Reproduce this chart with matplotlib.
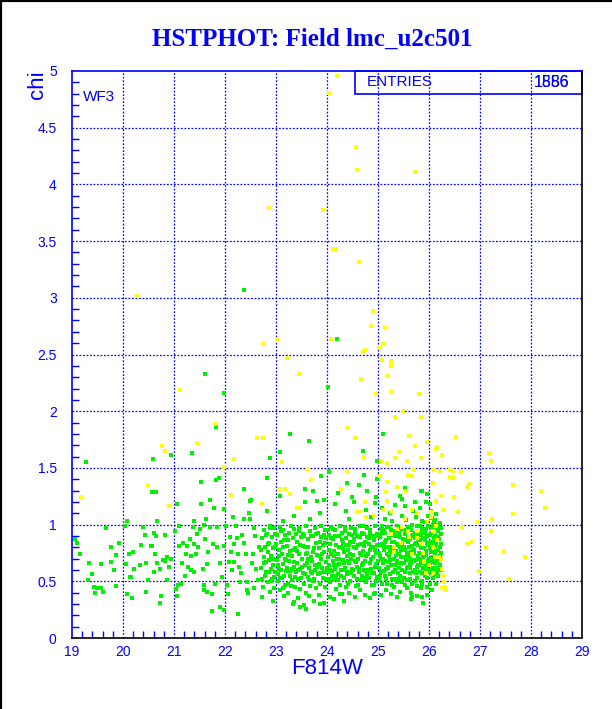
import numpy as np
import matplotlib
matplotlib.use("Agg")
import matplotlib.pyplot as plt
from matplotlib.lines import Line2D
from matplotlib.patches import Rectangle

# ---------------- data ----------------
title = "HSTPHOT: Field lmc_u2c501"
x_label = "F814W"
y_label = "chi"
x_ticks = [19, 20, 21, 22, 23, 24, 25, 26, 27, 28, 29]
y_ticks = [0, 0.5, 1, 1.5, 2, 2.5, 3, 3.5, 4, 4.5, 5]
y_tick_labels = ["0", "0.5", "1", "1.5", "2", "2.5", "3", "3.5", "4", "4.5", "5"]
stats_label = "ENTRIES"
stats_values = ["1556", "1886"]   # two overprinted numbers
chip_label = "WF3"

# sparse bright part (x < 22.7)
green_bright = [
    (19.28, 1.55), (19.10, 0.84), (19.16, 0.74), (19.06, 0.87), (19.33, 0.66), (19.32, 0.51),
    (19.40, 0.56), (19.44, 0.45), (19.45, 0.40), (19.50, 0.44), (19.56, 0.44), (19.56, 0.65),
    (19.61, 0.41), (19.66, 0.97), (19.77, 0.80), (19.77, 0.67), (19.83, 0.60), (19.87, 0.73),
    (19.87, 0.46), (19.92, 0.84), (20.04, 0.99), (20.08, 1.03), (20.05, 0.65), (20.11, 0.74),
    (20.13, 0.54), (20.16, 0.54), (20.21, 0.61), (20.07, 0.39), (20.18, 0.35), (20.20, 0.76),
    (20.36, 0.82), (20.34, 0.64), (20.40, 0.98), (20.44, 0.91), (20.46, 0.66), (20.49, 0.51),
    (20.46, 0.41), (20.56, 1.29), (20.64, 1.29), (20.58, 1.58), (20.54, 0.81), (20.57, 0.81),
    (20.60, 0.93), (20.62, 0.74), (20.60, 0.58), (20.64, 0.90), (20.66, 1.03), (20.67, 0.66),
    (20.72, 0.61), (20.74, 0.37), (20.72, 0.31), (20.78, 0.69), (20.82, 0.91), (20.82, 0.68),
    (20.86, 0.51), (20.86, 0.71), (20.91, 0.63), (20.94, 0.70), (20.95, 1.61), (21.01, 0.94),
    (21.05, 1.18), (21.07, 0.47), (21.05, 0.37), (21.03, 0.43), (21.10, 0.99), (21.10, 0.81),
    (21.14, 0.48), (21.16, 0.66), (21.18, 0.84), (21.21, 0.55), (21.23, 0.74), (21.26, 0.81),
    (21.28, 0.63), (21.31, 0.87), (21.33, 0.72), (21.34, 0.60), (21.36, 1.63), (21.38, 0.98),
    (21.39, 1.03), (21.40, 0.83), (21.39, 0.58), (21.43, 0.74), (21.46, 0.92), (21.47, 0.80),
    (21.51, 0.96), (21.52, 1.18), (21.53, 1.38), (21.56, 0.61), (21.58, 0.47), (21.58, 0.42),
    (21.59, 1.00), (21.60, 0.87), (21.62, 1.05), (21.64, 0.65), (21.64, 0.41), (21.67, 0.76),
    (21.70, 1.22), (21.71, 0.98), (21.74, 0.24), (21.75, 0.39), (21.77, 0.83), (21.79, 1.15),
    (21.80, 0.48), (21.82, 1.39), (21.82, 1.86), (21.84, 0.80), (21.85, 0.98), (21.89, 1.41),
    (21.91, 0.66), (21.91, 0.27), (21.95, 0.54), (21.98, 0.81), (21.99, 1.14), (21.99, 0.25),
    (22.01, 0.99), (22.04, 0.47), (22.06, 0.39), (22.08, 0.67), (22.10, 0.89), (22.11, 0.76),
    (22.13, 0.60), (22.15, 1.07), (22.17, 0.67), (22.18, 0.83), (22.21, 0.99), (22.23, 0.88),
    (22.25, 0.74), (22.26, 0.21), (22.28, 0.63), (22.30, 0.49), (22.31, 0.57), (22.34, 0.91),
    (22.37, 1.05), (22.38, 1.31), (22.38, 0.84), (22.41, 0.74), (22.43, 0.42), (22.44, 0.49),
    (22.46, 0.40), (22.48, 1.10), (22.50, 1.05), (22.51, 1.22), (22.52, 0.66), (22.54, 0.74),
    (22.56, 0.44), (22.57, 0.97), (22.59, 0.90), (22.61, 0.61), (22.63, 1.76), (22.64, 0.51),
    (22.67, 0.80), (22.37, 3.07), (21.61, 2.33), (21.98, 2.16),
]

# dense faint part (x >= 22.7)
green_faint = [
    (22.71, 0.62), (22.73, 0.88), (22.74, 0.45), (22.76, 0.71), (22.77, 0.95), (22.78, 0.55), (22.79, 0.80), (22.72, 0.36),
    (22.81, 0.67), (22.82, 0.92), (22.84, 0.49), (22.85, 0.76), (22.86, 0.58), (22.88, 0.99), (22.89, 0.41), (22.87, 0.84), (22.83, 1.12),
    (22.91, 0.72), (22.92, 0.52), (22.93, 0.89), (22.95, 0.64), (22.96, 0.97), (22.97, 0.44), (22.98, 0.80), (22.99, 0.58), (22.94, 0.33),
    (23.01, 0.69), (23.02, 0.91), (23.03, 0.50), (23.05, 0.78), (23.06, 0.61), (23.07, 0.98), (23.08, 0.42), (23.09, 0.85), (23.04, 0.56), (23.07, 1.25),
    (23.11, 0.74), (23.12, 0.53), (23.13, 0.95), (23.14, 0.65), (23.16, 0.86), (23.17, 0.47), (23.18, 0.70), (23.19, 0.59), (23.15, 0.37), (23.13, 1.03),
    (23.21, 0.81), (23.22, 0.62), (23.23, 0.48), (23.25, 0.93), (23.26, 0.68), (23.27, 0.55), (23.28, 0.77), (23.29, 0.99), (23.24, 0.40),
    (23.31, 0.72), (23.32, 0.51), (23.33, 0.88), (23.35, 0.63), (23.36, 0.96), (23.37, 0.45), (23.38, 0.79), (23.39, 0.58), (23.34, 0.30), (23.36, 1.08),
    (23.41, 0.66), (23.42, 0.85), (23.43, 0.52), (23.45, 0.74), (23.46, 0.97), (23.47, 0.43), (23.48, 0.61), (23.49, 0.89), (23.44, 0.35), (23.47, 1.15),
    (23.51, 0.70), (23.52, 0.57), (23.53, 0.92), (23.55, 0.48), (23.56, 0.80), (23.57, 0.64), (23.58, 0.99), (23.59, 0.40), (23.54, 0.29), (23.56, 1.20),
    (23.61, 0.75), (23.62, 0.54), (23.63, 0.87), (23.65, 0.62), (23.66, 0.94), (23.67, 0.46), (23.68, 0.71), (23.69, 0.58), (23.64, 0.37), (23.66, 1.05),
    (23.71, 0.68), (23.72, 0.90), (23.73, 0.50), (23.75, 0.79), (23.76, 0.60), (23.77, 0.97), (23.78, 0.44), (23.79, 0.84), (23.74, 0.33), (23.73, 1.30),
    (23.81, 0.73), (23.82, 0.56), (23.83, 0.93), (23.85, 0.65), (23.86, 0.85), (23.87, 0.48), (23.88, 0.70), (23.89, 0.99), (23.84, 0.38), (23.86, 1.10),
    (23.91, 0.62), (23.92, 0.82), (23.93, 0.53), (23.95, 0.76), (23.96, 0.95), (23.97, 0.45), (23.98, 0.67), (23.99, 0.88), (23.94, 0.31), (23.95, 1.22),
    (24.01, 0.71), (24.02, 0.58), (24.03, 0.91), (24.04, 0.64), (24.05, 0.83), (24.06, 0.49), (24.07, 0.98), (24.08, 0.74), (24.09, 0.55), (24.05, 0.36), (24.03, 1.46),
    (24.11, 0.68), (24.12, 0.87), (24.13, 0.52), (24.14, 0.77), (24.15, 0.95), (24.16, 0.61), (24.17, 0.43), (24.18, 0.82), (24.19, 0.70), (24.14, 0.34), (24.16, 1.18),
    (24.21, 0.74), (24.22, 0.56), (24.23, 0.90), (24.24, 0.65), (24.25, 0.99), (24.26, 0.47), (24.27, 0.80), (24.28, 0.60), (24.29, 0.86), (24.25, 0.39), (24.22, 1.28),
    (24.31, 0.69), (24.32, 0.84), (24.33, 0.53), (24.34, 0.76), (24.35, 0.94), (24.36, 0.62), (24.37, 0.45), (24.38, 0.88), (24.39, 0.72), (24.34, 0.33), (24.37, 1.12),
    (24.41, 0.78), (24.42, 0.58), (24.43, 0.92), (24.44, 0.66), (24.45, 0.50), (24.46, 0.85), (24.47, 0.97), (24.48, 0.70), (24.49, 0.61), (24.44, 0.40), (24.43, 1.05),
    (24.51, 0.73), (24.52, 0.87), (24.53, 0.55), (24.54, 0.68), (24.55, 0.96), (24.56, 0.46), (24.57, 0.79), (24.58, 0.63), (24.59, 0.90), (24.55, 0.36), (24.52, 1.20),
    (24.61, 0.70), (24.62, 0.58), (24.63, 0.89), (24.64, 0.75), (24.65, 0.99), (24.66, 0.51), (24.67, 0.83), (24.68, 0.64), (24.69, 0.93), (24.65, 0.42), (24.62, 1.35),
    (24.71, 0.77), (24.72, 0.60), (24.73, 0.92), (24.74, 0.68), (24.75, 0.85), (24.76, 0.49), (24.77, 0.72), (24.78, 0.97), (24.79, 0.56), (24.74, 0.38), (24.76, 1.13), (24.72, 1.44),
    (24.81, 0.74), (24.82, 0.88), (24.83, 0.53), (24.84, 0.66), (24.85, 0.95), (24.86, 0.61), (24.87, 0.80), (24.88, 0.47), (24.89, 0.90), (24.84, 0.35), (24.86, 1.07),
    (24.91, 0.71), (24.92, 0.57), (24.93, 0.86), (24.94, 0.78), (24.95, 0.99), (24.96, 0.50), (24.97, 0.65), (24.98, 0.92), (24.99, 0.82), (24.94, 0.40), (24.97, 1.24), (24.98, 1.40),
    (25.01, 0.75), (25.02, 0.62), (25.03, 0.89), (25.04, 0.55), (25.05, 0.96), (25.06, 0.70), (25.07, 0.83), (25.08, 0.48), (25.09, 0.66), (25.02, 0.91), (25.06, 0.38), (25.08, 1.15),
    (25.11, 0.78), (25.12, 0.59), (25.13, 0.93), (25.14, 0.68), (25.15, 0.86), (25.16, 0.52), (25.17, 0.74), (25.18, 0.98), (25.19, 0.63), (25.12, 0.81), (25.16, 0.42), (25.14, 1.05),
    (25.21, 0.72), (25.22, 0.88), (25.23, 0.56), (25.24, 0.80), (25.25, 0.95), (25.26, 0.64), (25.27, 0.47), (25.28, 0.76), (25.29, 0.91), (25.22, 0.67), (25.26, 0.39), (25.24, 1.10), (25.28, 1.03),
    (25.31, 0.70), (25.32, 0.85), (25.33, 0.60), (25.34, 0.94), (25.35, 0.77), (25.36, 0.52), (25.37, 0.68), (25.38, 0.99), (25.39, 0.82), (25.32, 0.45), (25.36, 0.90), (25.34, 1.17), (25.38, 0.36),
    (25.41, 0.74), (25.42, 0.62), (25.43, 0.89), (25.44, 0.55), (25.45, 0.97), (25.46, 0.71), (25.47, 0.83), (25.48, 0.49), (25.49, 0.66), (25.42, 0.93), (25.46, 0.78), (25.44, 0.41), (25.48, 1.08), (25.43, 1.25),
    (25.51, 0.80), (25.52, 0.58), (25.53, 0.92), (25.54, 0.69), (25.55, 0.86), (25.56, 0.51), (25.57, 0.75), (25.58, 0.98), (25.59, 0.63), (25.52, 0.71), (25.56, 0.44), (25.54, 1.04), (25.58, 0.88), (25.53, 1.32),
    (25.61, 0.73), (25.62, 0.87), (25.63, 0.57), (25.64, 0.95), (25.65, 0.66), (25.66, 0.81), (25.67, 0.48), (25.68, 0.77), (25.69, 0.91), (25.62, 0.62), (25.66, 1.00), (25.64, 0.40), (25.68, 1.12), (25.63, 0.70),
    (25.71, 0.78), (25.72, 0.60), (25.73, 0.93), (25.74, 0.69), (25.75, 0.84), (25.76, 0.53), (25.77, 0.99), (25.78, 0.72), (25.79, 0.64), (25.72, 0.88), (25.76, 0.46), (25.74, 1.07), (25.78, 0.82), (25.73, 1.20), (25.77, 0.37),
    (25.81, 0.75), (25.82, 0.91), (25.83, 0.58), (25.84, 0.83), (25.85, 0.67), (25.86, 0.97), (25.87, 0.50), (25.88, 0.79), (25.89, 0.62), (25.82, 0.70), (25.86, 1.03), (25.84, 0.44), (25.88, 0.88), (25.83, 1.15), (25.87, 0.95), (25.85, 1.30),
    (25.91, 0.72), (25.92, 0.86), (25.93, 0.60), (25.94, 0.96), (25.95, 0.77), (25.96, 0.53), (25.97, 0.90), (25.98, 0.68), (25.99, 0.82), (25.92, 1.02), (25.96, 0.45), (25.94, 0.64), (25.98, 1.08), (25.93, 0.74), (25.97, 0.38), (25.95, 1.20),
    (26.01, 0.79), (26.02, 0.66), (26.03, 0.93), (26.04, 0.57), (26.05, 0.85), (26.06, 0.71), (26.07, 1.00), (26.08, 0.62), (26.09, 0.88), (26.02, 0.48), (26.06, 1.06), (26.04, 0.76), (26.08, 0.95), (26.03, 1.12), (26.07, 0.53), (26.05, 0.42), (26.09, 0.69), (26.01, 1.18),
    (26.11, 0.74), (26.12, 0.90), (26.13, 0.61), (26.14, 0.83), (26.15, 0.97), (26.16, 0.68), (26.17, 0.78), (26.18, 0.55), (26.12, 1.04), (26.14, 0.48), (26.16, 0.87), (26.13, 1.09), (26.11, 0.66), (26.17, 0.94), (26.15, 0.58),
    (26.21, 0.80), (26.22, 0.69), (26.23, 0.92), (26.24, 0.60), (26.21, 1.01), (26.23, 0.75),
    # stragglers above and below the band
    (22.50, 1.21), (22.82, 1.41), (22.88, 1.59), (23.08, 1.64), (23.27, 1.80), (23.65, 1.74), (23.56, 1.31),
    (23.81, 1.21), (23.89, 1.43), (24.04, 1.47), (24.40, 1.37), (24.50, 1.24), (24.79, 1.30), (24.95, 1.19),
    (24.70, 1.65), (24.99, 1.56), (25.10, 1.80), (25.48, 1.23), (25.52, 1.16), (25.87, 1.30), (25.97, 1.27),
    (24.20, 2.64), (24.01, 2.21),
    (23.35, 0.32), (23.48, 0.27), (23.58, 0.26), (23.86, 0.30), (24.30, 0.39), (24.92, 0.39), (25.88, 0.31),
    (25.67, 0.36), (25.64, 0.34), (25.89, 0.31), (25.87, 0.36),
]

# more stars in the crowded core of the band
green_core = [
    (22.705, 0.78), (22.735, 0.52), (22.765, 0.66), (22.795, 0.91),
    (22.805, 0.58), (22.835, 0.83), (22.865, 0.69), (22.895, 0.50), (22.875, 0.97),
    (22.905, 0.61), (22.935, 0.79), (22.965, 0.54), (22.985, 0.92), (22.945, 0.70),
    (23.005, 0.83), (23.035, 0.64), (23.065, 0.72), (23.085, 0.53), (23.095, 0.94),
    (23.105, 0.60), (23.135, 0.80), (23.165, 0.55), (23.185, 0.91), (23.145, 0.44),
    (23.205, 0.69), (23.235, 0.86), (23.265, 0.59), (23.285, 0.46), (23.245, 0.73),
    (23.305, 0.61), (23.335, 0.78), (23.365, 0.54), (23.385, 0.92), (23.345, 0.67),
    (23.405, 0.77), (23.435, 0.60), (23.465, 0.82), (23.485, 0.53), (23.455, 0.94),
    (23.505, 0.63), (23.535, 0.81), (23.565, 0.56), (23.585, 0.74), (23.545, 0.90),
    (23.605, 0.66), (23.635, 0.80), (23.655, 0.51), (23.685, 0.90), (23.625, 0.70),
    (23.705, 0.57), (23.735, 0.76), (23.765, 0.64), (23.785, 0.92), (23.745, 0.52),
    (23.805, 0.63), (23.835, 0.79), (23.865, 0.57), (23.885, 0.89), (23.845, 0.72),
    (23.905, 0.74), (23.935, 0.58), (23.965, 0.84), (23.985, 0.52), (23.945, 0.91),
    (24.005, 0.62), (24.035, 0.78), (24.065, 0.60), (24.085, 0.88), (24.045, 0.52), (24.025, 0.95),
    (24.105, 0.59), (24.135, 0.72), (24.165, 0.90), (24.185, 0.55), (24.145, 0.64), (24.125, 0.96),
    (24.205, 0.64), (24.235, 0.80), (24.265, 0.55), (24.285, 0.93), (24.245, 0.70), (24.215, 0.51),
    (24.305, 0.79), (24.335, 0.60), (24.365, 0.82), (24.385, 0.56), (24.345, 0.98), (24.325, 0.66),
    (24.405, 0.68), (24.435, 0.82), (24.465, 0.57), (24.485, 0.91), (24.445, 0.74), (24.415, 0.48),
    (24.505, 0.60), (24.535, 0.80), (24.565, 0.67), (24.585, 0.52), (24.545, 0.93), (24.515, 0.85),
    (24.605, 0.82), (24.635, 0.61), (24.665, 0.73), (24.685, 0.55), (24.645, 0.89), (24.615, 0.47),
    (24.705, 0.66), (24.735, 0.81), (24.765, 0.59), (24.785, 0.89), (24.745, 0.53), (24.725, 0.99),
    (24.805, 0.60), (24.835, 0.78), (24.865, 0.70), (24.885, 0.57), (24.845, 0.92), (24.815, 0.83),
    (24.905, 0.80), (24.935, 0.63), (24.965, 0.75), (24.985, 0.54), (24.945, 0.90), (24.915, 0.47),
    (25.005, 0.68), (25.035, 0.82), (25.065, 0.58), (25.085, 0.93), (25.045, 0.72), (25.015, 0.51), (25.075, 0.99),
    (25.105, 0.70), (25.135, 0.85), (25.165, 0.61), (25.185, 0.80), (25.145, 0.55), (25.115, 0.95), (25.175, 0.48),
    (25.205, 0.62), (25.235, 0.77), (25.265, 0.85), (25.285, 0.58), (25.245, 0.69), (25.215, 0.98), (25.275, 0.52),
    (25.305, 0.79), (25.335, 0.64), (25.365, 0.83), (25.385, 0.57), (25.345, 0.73), (25.315, 0.93), (25.375, 0.49),
    (25.405, 0.66), (25.435, 0.80), (25.465, 0.60), (25.485, 0.87), (25.445, 0.71), (25.415, 0.52), (25.475, 0.96),
    (25.505, 0.66), (25.535, 0.78), (25.565, 0.62), (25.585, 0.85), (25.545, 0.95), (25.515, 0.53), (25.575, 0.72), (25.525, 0.47),
    (25.605, 0.80), (25.635, 0.65), (25.665, 0.90), (25.685, 0.58), (25.645, 0.76), (25.615, 0.97), (25.675, 0.69), (25.625, 0.52),
    (25.705, 0.68), (25.735, 0.83), (25.765, 0.63), (25.785, 0.92), (25.745, 0.57), (25.715, 0.75), (25.775, 0.86), (25.725, 0.50),
    (25.805, 0.64), (25.835, 0.79), (25.865, 0.57), (25.885, 0.71), (25.845, 0.92), (25.815, 0.86), (25.875, 0.66), (25.825, 0.99), (25.855, 0.48),
    (25.905, 0.79), (25.935, 0.67), (25.965, 0.84), (25.985, 0.59), (25.945, 0.73), (25.915, 0.93), (25.975, 0.99), (25.925, 0.55), (25.955, 0.63),
    (26.005, 0.70), (26.035, 0.84), (26.065, 0.60), (26.085, 0.76), (26.045, 0.97), (26.015, 0.91), (26.075, 0.82), (26.025, 0.58), (26.055, 0.67), (26.095, 1.02),
    (26.105, 0.85), (26.135, 0.70), (26.165, 0.62), (26.185, 0.89), (26.145, 0.77), (26.115, 0.56), (26.175, 1.00), (26.125, 0.81),
    (26.205, 0.87), (26.225, 0.64), (26.245, 0.83), (26.215, 0.72), (26.235, 0.97),
]

yellow_pts = [
    (19.18, 1.24), (20.77, 1.69), (20.82, 1.65), (21.46, 1.72), (20.90, 1.16), (20.50, 1.35), (21.80, 1.89),
    (22.17, 1.58), (22.11, 1.26), (21.99, 1.51), (20.27, 3.02), (21.12, 2.19),
    (24.19, 4.96), (24.04, 4.81), (24.57, 4.33), (24.58, 4.13), (25.72, 4.11), (22.87, 3.79), (23.92, 3.77),
    (24.11, 3.43), (24.18, 3.43), (24.63, 3.32), (24.91, 2.88), (24.87, 2.75), (25.13, 2.73), (22.74, 2.59),
    (23.01, 2.64), (24.07, 2.64), (25.09, 2.59), (25.01, 2.56), (24.75, 2.54), (24.71, 2.52), (23.22, 2.47),
    (25.07, 2.45), (25.26, 2.44), (25.25, 2.40), (23.46, 2.33), (25.17, 2.31), (24.67, 2.28), (24.97, 2.15),
    (25.26, 2.17), (25.81, 2.15), (25.50, 2.00), (25.34, 1.95), (25.85, 1.95),
    (25.61, 1.78), (25.72, 1.69), (25.41, 1.64), (25.08, 1.56), (25.18, 1.54), (25.34, 1.59), (25.56, 1.56),
    (25.85, 1.59), (24.40, 1.85), (24.54, 1.76), (24.73, 1.60), (23.12, 1.55), (23.61, 1.49), (24.40, 1.47),
    (22.75, 1.76), (22.62, 1.76), (23.18, 1.31), (23.08, 1.31), (23.27, 1.27), (23.68, 1.39), (24.27, 1.31),
    (24.75, 1.20), (24.58, 1.11), (24.65, 1.11), (23.42, 1.15), (23.48, 1.15), (22.73, 1.18), (25.71, 1.48),
    (25.59, 1.44), (25.66, 1.43), (25.38, 1.33), (25.54, 1.30), (25.17, 1.38), (25.15, 1.29), (25.04, 1.43),
    (25.10, 1.13), (25.25, 1.11), (25.67, 1.13), (25.76, 1.10), (26.10, 1.48), (26.22, 1.47), (26.07, 1.37),
    (26.28, 1.13), (26.13, 1.21), (26.03, 1.11), (25.18, 1.21), (24.76, 1.07), (24.93, 1.08),
    (25.38, 0.96), (25.46, 0.84), (25.58, 0.94), (25.61, 0.89), (25.31, 0.80), (25.25, 0.92), (25.67, 0.74),
    (25.76, 0.88), (25.84, 0.83), (25.88, 0.75), (25.97, 1.02), (26.03, 1.07), (26.08, 0.94), (26.13, 0.99),
    (26.16, 0.86), (26.19, 0.71), (26.24, 0.69), (26.26, 0.61), (26.28, 0.55), (26.29, 0.49), (26.26, 0.44),
    (26.32, 0.45), (26.00, 0.64), (26.07, 0.80), (25.91, 0.67), (25.77, 0.94), (25.52, 1.05), (25.48, 0.98),
    (25.94, 0.57), (26.08, 0.57), (25.31, 0.76), (26.11, 0.71),
    (25.97, 1.73), (26.52, 1.77), (26.13, 1.67), (26.16, 1.68), (26.26, 1.61), (27.18, 1.63), (27.21, 1.56),
    (26.41, 1.48), (26.48, 1.47), (26.63, 1.46), (26.42, 1.42), (26.48, 1.41), (26.78, 1.36), (26.74, 1.33),
    (27.65, 1.35), (28.19, 1.30), (26.24, 1.25), (26.49, 1.24), (28.27, 1.15), (26.29, 1.13), (26.56, 1.11),
    (27.24, 1.05), (27.65, 1.09), (26.97, 1.02), (26.65, 0.98), (27.21, 0.94), (26.85, 0.85), (26.74, 0.83),
    (27.11, 0.80), (27.48, 0.77), (27.88, 0.71), (26.98, 0.59), (27.57, 0.52), (26.33, 0.42),
]

# ---------------- drawing ----------------
BLUE = "#0000ff"
GREEN = "#00f000"
YELLOW = "#ffff00"

fig = plt.figure(figsize=(6.12, 7.09), dpi=100, facecolor="white")
ax = fig.add_axes([72 / 612, 1 - 638 / 709, 510 / 612, 567 / 709])

green = np.array(green_bright + green_faint + green_core)
yellow = np.array(yellow_pts)
ax.scatter(green[:, 0], green[:, 1], s=5.5, marker="s", color=GREEN, linewidths=0, zorder=3)
ax.scatter(yellow[:, 0], yellow[:, 1], s=5.5, marker="s", color=YELLOW, linewidths=0, zorder=4)

ax.set_xlim(19, 29)
ax.set_ylim(0, 5)
ax.set_xticks(x_ticks)
ax.set_xticklabels([str(t) for t in x_ticks])
ax.set_yticks(y_ticks)
ax.set_yticklabels(y_tick_labels)
ax.set_xticks(np.arange(19, 29.01, 0.2), minor=True)
ax.set_yticks(np.arange(0, 5.01, 0.1), minor=True)

for lab in ax.get_xticklabels() + ax.get_yticklabels():
    lab.set_fontfamily("Liberation Sans")
    lab.set_fontsize(10)
    lab.set_color(BLUE)
ax.tick_params(axis="x", which="both", direction="in", color=BLUE, pad=5)
ax.tick_params(axis="y", which="both", direction="in", color=BLUE, pad=11)
ax.tick_params(which="major", length=0)
ax.tick_params(which="minor", length=5, width=1)

for v in x_ticks[1:-1]:
    ax.axvline(v, color=BLUE, lw=0.9, ls=(0, (1.4, 1.4)), zorder=1)
for v in y_ticks[1:-1]:
    ax.axhline(v, color=BLUE, lw=0.9, ls=(0, (1.4, 1.4)), zorder=1)

ax.spines["left"].set_color(BLUE)
ax.spines["top"].set_color(BLUE)
ax.spines["bottom"].set_color("black")
ax.spines["right"].set_color("black")
for s in ax.spines.values():
    s.set_linewidth(1.2)
    s.set_zorder(5)

# stats box
ax.add_patch(Rectangle((24.55, 4.8), 4.45, 0.2, fill=False, edgecolor=BLUE, lw=1.2,
                       transform=ax.transData, zorder=5, clip_on=False))
ax.text(24.78, 4.9, stats_label, color=BLUE, fontsize=11, family="Liberation Sans",
        va="center", ha="left", zorder=6)
for sv in stats_values:
    ax.text(28.75, 4.9, sv, color=BLUE, fontsize=11.5, family="Liberation Sans",
            va="center", ha="right", zorder=6)
ax.text(19.22, 4.77, chip_label, color=BLUE, fontsize=11, family="Liberation Sans",
        va="center", ha="left", zorder=6)

fig.text(312 / 612, 1 - 39 / 709, title, color=BLUE, fontsize=18, fontweight="bold",
         family="Liberation Serif", ha="center", va="center")
fig.text(327 / 612, 1 - 668 / 709, x_label, color=BLUE, fontsize=16,
         family="Liberation Sans", ha="center", va="center")
fig.text(38 / 612, 1 - 70 / 709, y_label, color=BLUE, fontsize=16, rotation=90,
         family="Liberation Sans", ha="center", va="top")

# black frame on the left and top edges of the picture
fig.add_artist(Line2D([0, 0], [0, 1], color="black", lw=3, transform=fig.transFigure))
fig.add_artist(Line2D([0, 1], [1, 1], color="black", lw=3, transform=fig.transFigure))

fig.savefig("out.png", dpi=100, facecolor="white")
